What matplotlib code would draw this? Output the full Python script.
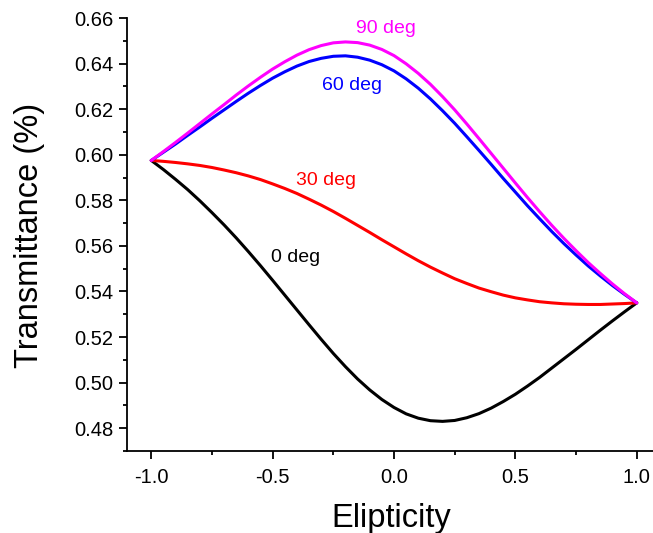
import matplotlib
matplotlib.use("Agg")
import matplotlib.pyplot as plt
from matplotlib.ticker import MultipleLocator

plt.rcParams["font.family"] = ["Liberation Sans", "DejaVu Sans"]

# ellipticity samples (step 0.05)
elipticity = [-1.0, -0.95, -0.9, -0.85, -0.8, -0.75, -0.7, -0.65, -0.6, -0.55,
              -0.5, -0.45, -0.4, -0.35, -0.3, -0.25, -0.2, -0.15, -0.1, -0.05,
              0.0, 0.05, 0.1, 0.15, 0.2, 0.25, 0.3, 0.35, 0.4, 0.45,
              0.5, 0.55, 0.6, 0.65, 0.7, 0.75, 0.8, 0.85, 0.9, 0.95, 1.0]

# transmittance, one list per polarizer angle
t_0deg = [0.5975, 0.5935, 0.5892, 0.5847, 0.5798, 0.5746, 0.5692, 0.5635, 0.5575, 0.5513,
          0.5449, 0.5384, 0.5319, 0.5254, 0.5190, 0.5128, 0.5070, 0.5016, 0.4968, 0.4926,
          0.4891, 0.4863, 0.4844, 0.4833, 0.4830, 0.4834, 0.4846, 0.4864, 0.4888, 0.4917,
          0.4949, 0.4985, 0.5023, 0.5064, 0.5105, 0.5146, 0.5188, 0.5230, 0.5271, 0.5311,
          0.5350]
t_30deg = [0.5975, 0.5971, 0.5966, 0.5960, 0.5953, 0.5944, 0.5933, 0.5921, 0.5907, 0.5891,
           0.5872, 0.5852, 0.5830, 0.5805, 0.5779, 0.5751, 0.5721, 0.5690, 0.5659, 0.5627,
           0.5596, 0.5565, 0.5535, 0.5507, 0.5481, 0.5456, 0.5435, 0.5415, 0.5399, 0.5384,
           0.5372, 0.5363, 0.5355, 0.5350, 0.5346, 0.5344, 0.5343, 0.5343, 0.5345, 0.5347,
           0.5350]
t_60deg = [0.5975, 0.6011, 0.6047, 0.6085, 0.6122, 0.6160, 0.6197, 0.6234, 0.6270, 0.6304,
           0.6336, 0.6364, 0.6389, 0.6409, 0.6423, 0.6432, 0.6434, 0.6428, 0.6415, 0.6395,
           0.6368, 0.6333, 0.6292, 0.6245, 0.6193, 0.6138, 0.6079, 0.6019, 0.5958, 0.5896,
           0.5836, 0.5776, 0.5719, 0.5663, 0.5610, 0.5560, 0.5512, 0.5468, 0.5426, 0.5387,
           0.5350]
t_90deg = [0.5975, 0.6014, 0.6054, 0.6095, 0.6137, 0.6179, 0.6220, 0.6262, 0.6302, 0.6340,
           0.6376, 0.6408, 0.6437, 0.6461, 0.6479, 0.6491, 0.6495, 0.6492, 0.6481, 0.6462,
           0.6435, 0.6399, 0.6357, 0.6309, 0.6255, 0.6197, 0.6135, 0.6071, 0.6006, 0.5941,
           0.5876, 0.5812, 0.5750, 0.5690, 0.5633, 0.5579, 0.5527, 0.5479, 0.5433, 0.5390,
           0.5350]

series = [
    ("0 deg", t_0deg, "#000000", (-0.407, 0.5547)),
    ("30 deg", t_30deg, "#ff0000", (-0.279, 0.5889)),
    ("60 deg", t_60deg, "#0000ff", (-0.172, 0.6306)),
    ("90 deg", t_90deg, "#ff00ff", (-0.032, 0.6552)),
]

fig = plt.figure(figsize=(6.53, 5.33), dpi=100)
ax = fig.add_axes([127 / 653, 82 / 533, 526 / 653, 433 / 533])

for name, vals, col, (tx, ty) in series:
    ax.plot(elipticity, vals, color=col, lw=2.2, solid_capstyle="round",
            solid_joinstyle="round")
    ax.text(tx, ty, name, color=col, fontsize=14, ha="center", va="center")

ax.set_xlim(-1.1, 1.067)
ax.set_ylim(0.47, 0.66)

ax.xaxis.set_major_locator(MultipleLocator(0.5))
ax.xaxis.set_minor_locator(MultipleLocator(0.25))
ax.yaxis.set_major_locator(MultipleLocator(0.02))
ax.yaxis.set_minor_locator(MultipleLocator(0.01))
ax.xaxis.set_major_formatter(lambda v, p: f"{v:.1f}")
ax.yaxis.set_major_formatter(lambda v, p: f"{v:.2f}")

for side in ("top", "right"):
    ax.spines[side].set_visible(False)
for side in ("left", "bottom"):
    ax.spines[side].set_linewidth(1.3)

ax.tick_params(which="major", direction="out", length=6, width=1.3, labelsize=14.5)
ax.tick_params(which="minor", direction="out", length=3, width=1.3)
ax.tick_params(axis="y", which="major", pad=4)
ax.tick_params(axis="x", which="major", pad=6)

fig.text(391 / 653, 1 - 527 / 533, "Elipticity", fontsize=23.5,
         ha="center", va="baseline")
fig.text(38.5 / 653, 1 - 235 / 533, "Transmittance (%)", fontsize=23.5,
         ha="center", va="baseline", rotation=90, rotation_mode="anchor")

fig.savefig("out.png", dpi=100)
